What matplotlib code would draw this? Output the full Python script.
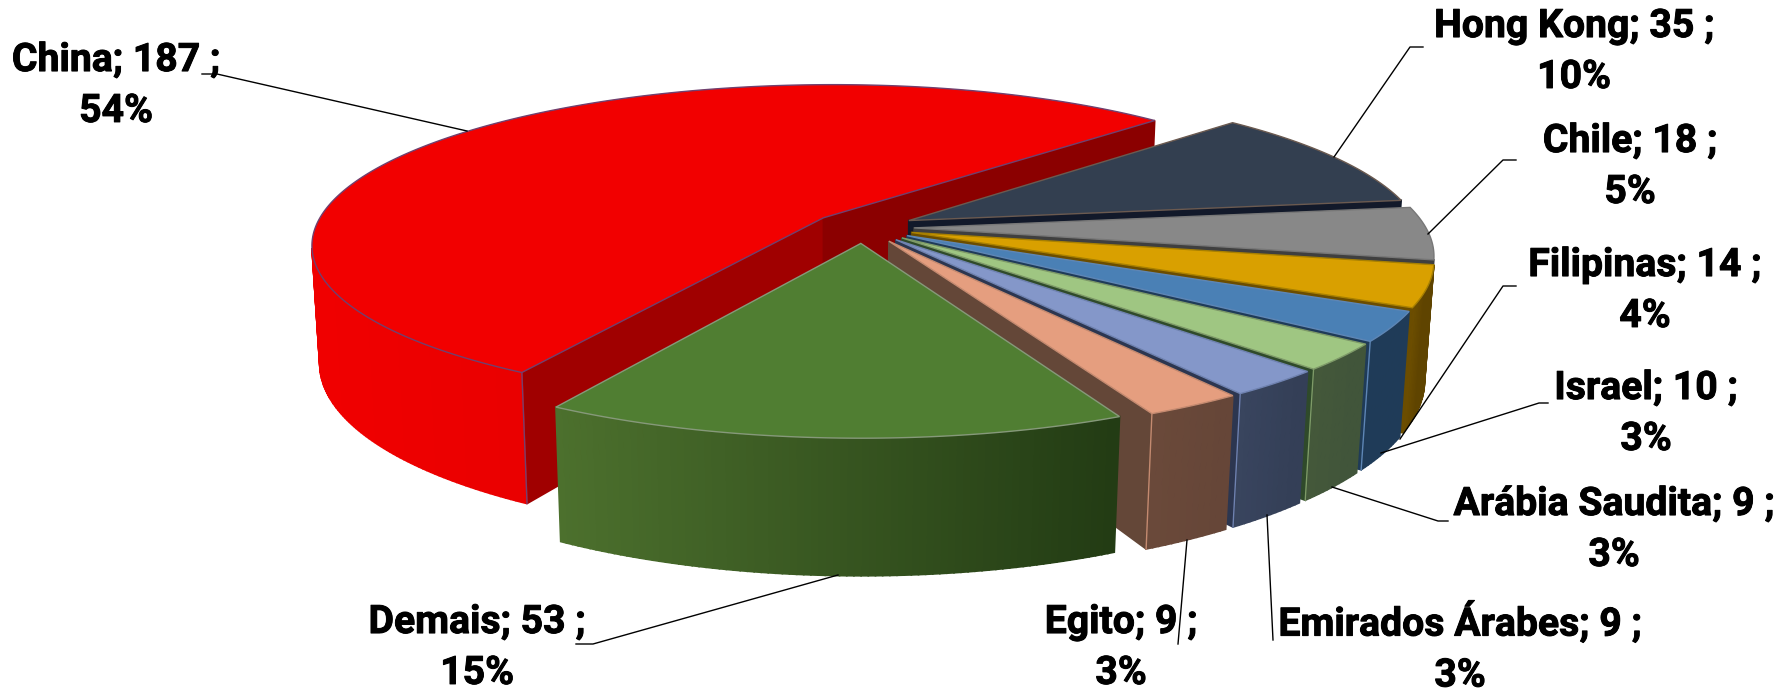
import numpy as np
import matplotlib
matplotlib.use("Agg")
import matplotlib.pyplot as plt
import matplotlib.patheffects as pe
from matplotlib.colors import to_rgb

# Data
countries = ["China", "Hong Kong", "Chile", "Filipinas", "Israel",
             "Arábia Saudita", "Emirados Árabes", "Egito", "Demais"]
values = [187, 35, 18, 14, 10, 9, 9, 9, 53]
percents = [54, 10, 5, 4, 3, 3, 3, 3, 15]

# Colours: top, cut face, outer side (left -> right)
top_colors = ["#F20000", "#333F50", "#888888", "#D9A000", "#4A80B5",
              "#9FC682", "#8497C9", "#E59E7F", "#507E32"]
cut_colors = ["#A00000", "#12192A", "#3F3F3F", "#6B4D00", "#1F3B58",
              "#2F4A2A", "#2C3650", "#644738", "#2E4A1C"]
back_cut_red = "#8B0000"
side_left = ["#F00000", "#333F50", "#666666", "#7A5800", "#1F3B58",
             "#45593A", "#3A4660", "#6B4A3A", "#4C702D"]
side_right = ["#D60000", "#333F50", "#555555", "#5F4400", "#1F3B58",
              "#41553A", "#343F57", "#664638", "#233C14"]
edge_colors = ["#70406F", "#6B5A50", "#777777", "#A88000", "#5E86B5",
               "#7E9A68", "#6F82B0", "#C48A70", "#86997A"]

# Projection of the pie plane onto the picture (camera looks down at it)
ORIGIN_X, ORIGIN_Y = 825, 218
F, G, K = 505, 154.5, 0.16
DROP, SHRINK = 117.4, 0.015
SHEAR = 2.5


def project(x, y, bottom=False):
    w = 1 + K * y + (SHRINK if bottom else 0)
    d = DROP if bottom else 0
    return ORIGIN_X + F * x / w, ORIGIN_Y + (-G * y + d) / w - SHEAR * x


fig = plt.figure(figsize=(17.87, 6.91), dpi=100)
ax = fig.add_axes([0, 0, 1, 1])
ax.set_xlim(0, 1787)
ax.set_ylim(691, 0)
ax.axis("off")

start = 211.0
total = sum(values)
hub = (0.0748, -0.0614)
explode = 0.1

angle = start
for i, value in enumerate(values):
    sweep = value / total * 360
    mid = np.radians(angle + sweep / 2)
    apex = (hub[0] + explode * np.sin(mid), hub[1] + explode * np.cos(mid))
    n = max(int(sweep * 1.5), 12)
    t = np.radians(np.linspace(angle, angle + sweep, n))
    xs = apex[0] + np.sin(t)
    ys = apex[1] + np.cos(t)

    # boundary: apex -> arc -> apex
    bx = np.r_[apex[0], xs]
    by = np.r_[apex[1], ys]
    px, py = project(bx, by)
    qx, qy = project(bx, by, bottom=True)

    # sides, only the ones facing the camera
    count = len(bx)
    for j in range(count):
        k = (j + 1) % count
        quad_x = [px[j], px[k], qx[k], qx[j]]
        quad_y = [py[j], py[k], qy[k], qy[j]]
        area = 0.5 * sum(quad_x[m] * quad_y[(m + 1) % 4] - quad_x[(m + 1) % 4] * quad_y[m]
                         for m in range(4))
        if area >= 0:
            continue
        if j == 0 or j == count - 1:
            color = cut_colors[i]
            if i == 0 and j == count - 1:
                color = back_cut_red
        else:
            span = qx[1:]
            f = (px[j] - span.min()) / max(span.max() - span.min(), 1)
            f = float(np.clip(f, 0, 1))
            c0, c1 = np.array(to_rgb(side_left[i])), np.array(to_rgb(side_right[i]))
            color = tuple(c0 + (c1 - c0) * f)
        ax.fill(quad_x, quad_y, facecolor=color, edgecolor=color, linewidth=1.2, zorder=i * 2 + 1)

    # light vertical edge on the corner that faces us
    if i == 0:
        ax.plot([px[1], qx[1]], [py[1], qy[1]], color=edge_colors[i], lw=1.0, zorder=i * 2 + 1)
    elif 4 <= i <= 7:
        ax.plot([px[-1], qx[-1]], [py[-1], qy[-1]], color=edge_colors[i], lw=1.0, zorder=i * 2 + 1)

    ax.fill(px, py, facecolor=top_colors[i], edgecolor=edge_colors[i], linewidth=1.0,
            zorder=i * 2 + 2, joinstyle="miter")
    angle += sweep

# Labels and leader lines
label_pos = [(116, 86), (1574, 52), (1630, 167), (1645, 291), (1646, 414),
             (1614, 530), (1460, 648), (1121, 648), (477, 648)]
leaders = [
    [(202, 74), (217, 74), (467, 131)],
    [(1423, 47), (1410, 47), (1334, 157)],
    [(1516, 160), (1503, 160), (1428, 234)],
    [(1516, 286), (1503, 286), (1400, 439)],
    [(1548, 403), (1539, 403), (1381, 453)],
    [(1448, 521), (1438, 521), (1332, 487)],
    [(1273, 640), (1267, 515)],
    [(1178, 644), (1187, 540)],
    [(576, 644), (593, 644), (838, 575)],
]

for name, value, pct, (x, y) in zip(countries, values, percents, label_pos):
    ax.text(x, y, f"{name}; {value} ;\n{pct}%", ha="center", va="center", fontsize=28.2,
            fontweight="bold", family="Roboto", color="black", linespacing=1.48, zorder=40,
            path_effects=[pe.withStroke(linewidth=0.7, foreground="black")])

for line in leaders:
    lx, ly = zip(*line)
    ax.plot(lx, ly, color="black", linewidth=1.0, zorder=30)

fig.savefig("out.png", dpi=100, facecolor="white")
